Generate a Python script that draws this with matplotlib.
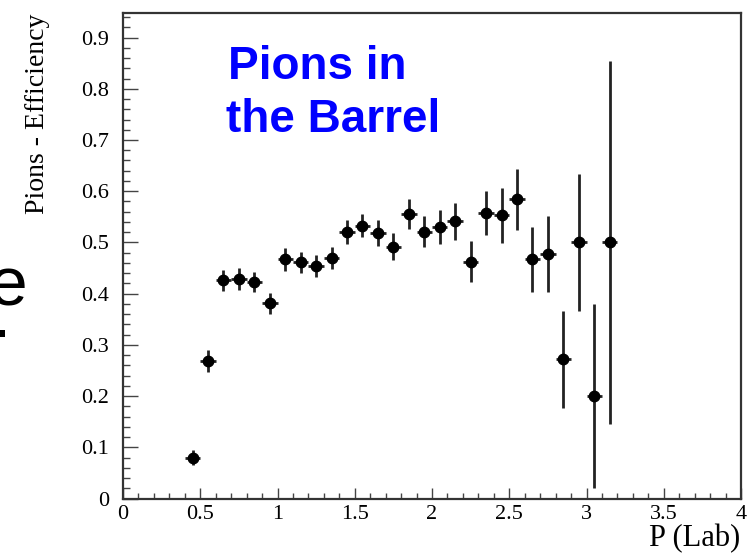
import numpy as np
import matplotlib
matplotlib.use('Agg')
import matplotlib.pyplot as plt
from matplotlib.ticker import MultipleLocator, FuncFormatter

# efficiency per momentum bin (bin centres, width 0.1)
p_lab = [0.45, 0.55, 0.65, 0.75, 0.85, 0.95, 1.05, 1.15, 1.25, 1.35,
         1.45, 1.55, 1.65, 1.75, 1.85, 1.95, 2.05, 2.15, 2.25, 2.35,
         2.45, 2.55, 2.65, 2.75, 2.85, 2.95, 3.05, 3.15]
eff = [0.080, 0.268, 0.426, 0.429, 0.423, 0.381, 0.467, 0.461, 0.454, 0.470,
       0.520, 0.533, 0.518, 0.492, 0.556, 0.521, 0.530, 0.541, 0.462, 0.558,
       0.553, 0.584, 0.467, 0.478, 0.272, 0.500, 0.200, 0.500]
eff_err = [0.014, 0.021, 0.021, 0.021, 0.020, 0.020, 0.022, 0.021, 0.021, 0.021,
           0.024, 0.023, 0.025, 0.026, 0.029, 0.030, 0.033, 0.036, 0.040, 0.043,
           0.054, 0.059, 0.063, 0.074, 0.095, 0.134, 0.180, 0.354]
half_bin = 0.05

xticks = [0, 0.5, 1, 1.5, 2, 2.5, 3, 3.5, 4]
yticks = [0, 0.1, 0.2, 0.3, 0.4, 0.5, 0.6, 0.7, 0.8, 0.9]

serif = ['Liberation Serif', 'DejaVu Serif']
sans = ['Liberation Sans', 'DejaVu Sans']

fig = plt.figure(figsize=(7.53, 5.55), dpi=100)
ax = fig.add_axes([123 / 753, 1 - 498.5 / 555, 618 / 753, 485.5 / 555])

ax.errorbar(p_lab, eff, yerr=eff_err, xerr=half_bin, fmt='o', color='black',
            ecolor='#222222', elinewidth=2.0, capsize=0, markersize=7.5)

ax.set_xlim(0, 4)
ax.set_ylim(0, 0.948)
ax.set_xticks(xticks)
ax.set_yticks(yticks)
ax.xaxis.set_minor_locator(MultipleLocator(0.1))
ax.yaxis.set_minor_locator(MultipleLocator(0.02))
fmt = FuncFormatter(lambda v, pos: '%g' % round(v, 2))
ax.xaxis.set_major_formatter(fmt)
ax.yaxis.set_major_formatter(fmt)

ax.tick_params(axis='both', which='major', labelsize=16,
               labelfontfamily='Liberation Serif')
ax.tick_params(axis='y', which='major', direction='in', length=10.5, width=1,
               color='#444444', pad=10)
ax.tick_params(axis='y', which='minor', direction='in', length=5, width=1,
               color='#444444')
ax.tick_params(axis='x', which='major', direction='in', length=8, width=1,
               color='#444444', pad=5)
ax.tick_params(axis='x', which='minor', direction='in', length=4, width=1,
               color='#444444')

for sp in ax.spines.values():
    sp.set_linewidth(1.6)
    sp.set_color('#333333')

# axis titles, ROOT style
fig.text(740 / 753, 1 - 546 / 555, 'P (Lab)', family=serif, fontsize=22,
         ha='right', va='baseline')
fig.text(38 / 753, 1 - 14 / 555, 'Pions - Efficiency', family=serif, fontsize=20,
         rotation=90, ha='center', va='top')

# blue label inside the frame
fig.text(228 / 753, 1 - 79 / 555, 'Pions in', family=sans, fontweight='bold',
         fontsize=33, color='#0000ff', ha='left', va='baseline')
fig.text(226 / 753, 1 - 132 / 555, 'the Barrel', family=sans, fontweight='bold',
         fontsize=33, color='#0000ff', ha='left', va='baseline')

# slide text cut at the left edge
fig.text(28 / 753, 1 - 305 / 555, 'e', family=sans, fontsize=50,
         ha='right', va='baseline')
fig.text(1 / 753, 1 - 337 / 555, '.', family=sans, fontsize=50,
         ha='center', va='baseline')

fig.savefig('out.png', dpi=100)
